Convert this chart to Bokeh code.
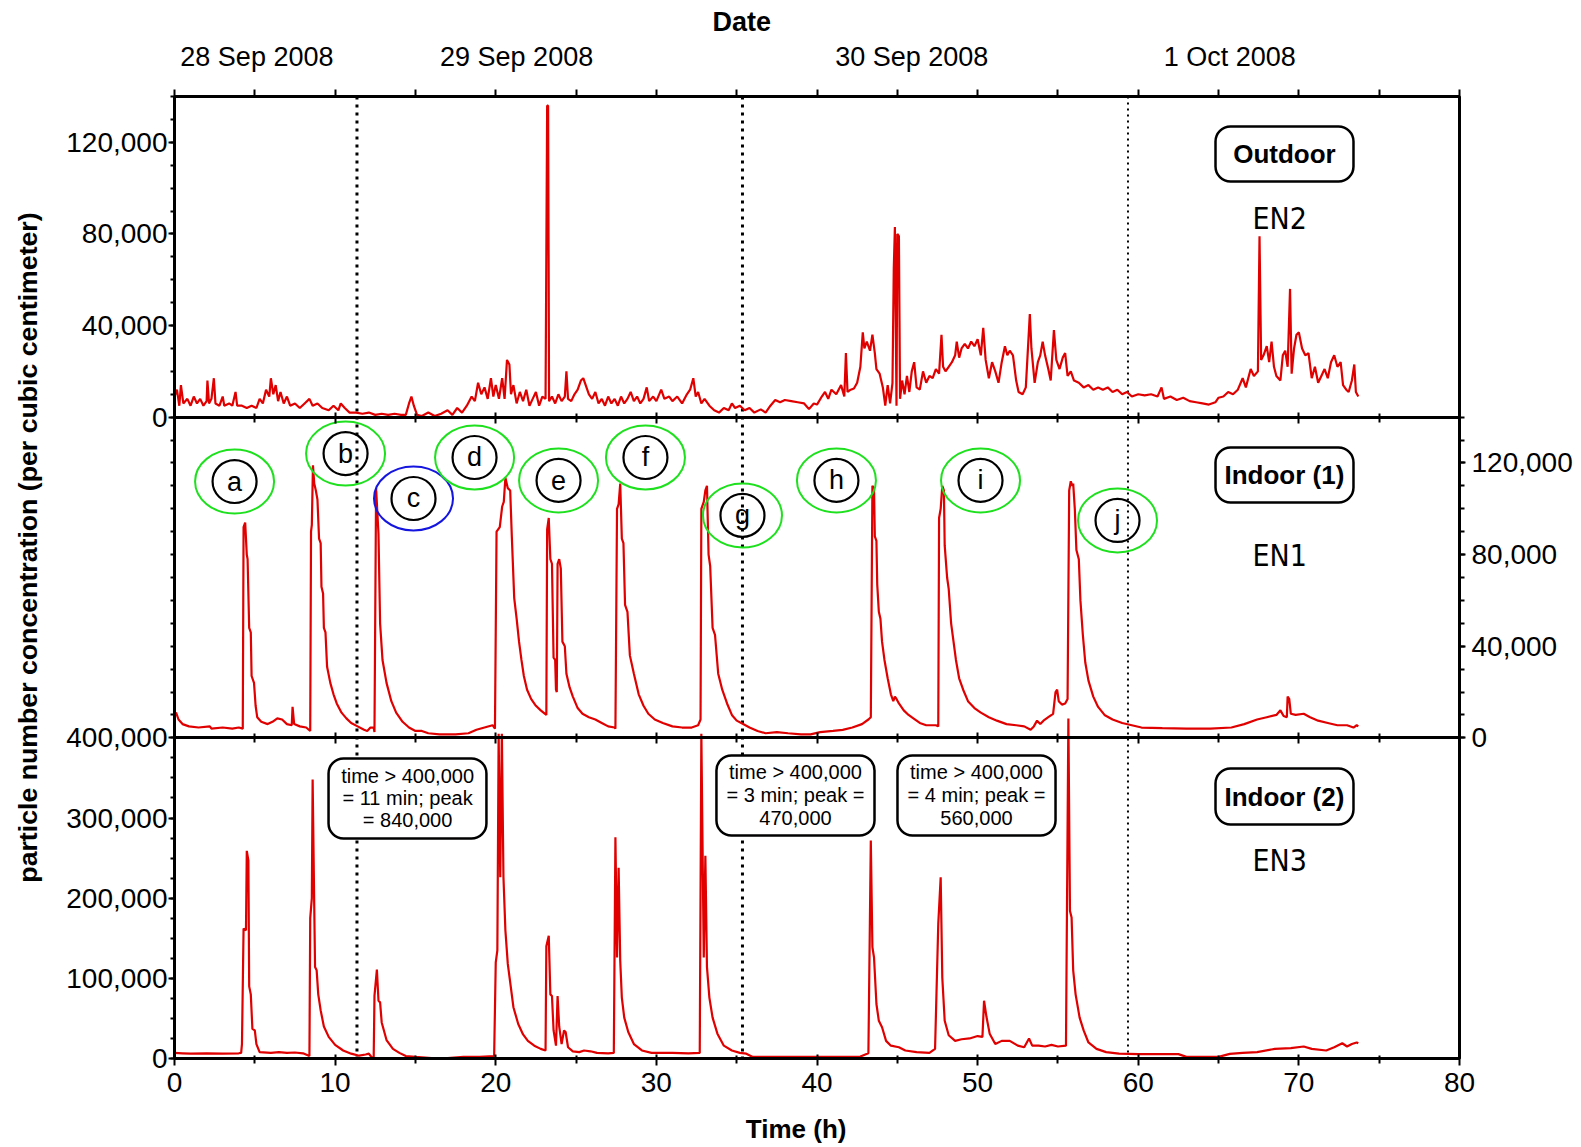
import math
from bokeh.plotting import figure
from bokeh.models import (Range1d, LinearAxis, FixedTicker, NumeralTickFormatter, Span, Label,
                          BoxAnnotation, CustomJSTickFormatter, Title, Grid)
from bokeh.embed import file_html
from bokeh.resources import INLINE
from bokeh.core.properties import value

# ---------------- data (time in hours, concentrations in thousands per cm3) ----------------
out_t = [0.0, 0.15, 0.3, 0.4, 0.55, 0.8, 1.0, 1.2, 1.4, 1.6, 1.8, 2.0, 2.05, 2.15, 2.3, 2.45, 2.55, 2.8,
         3.0, 3.1, 3.4, 3.6, 3.8, 3.9, 4.2, 4.5, 4.8, 5.1, 5.3, 5.5, 5.7, 5.9, 6.0, 6.15, 6.3, 6.45, 6.6,
         6.8, 7.0, 7.2, 7.5, 7.8, 8.1, 8.4, 8.6, 8.9, 9.2, 9.6, 9.9, 10.2, 10.35, 10.6, 10.9, 11.3, 11.7,
         12.1, 12.5, 12.9, 13.3, 13.7, 14.1, 14.4, 14.6, 14.75, 14.9, 15.1, 15.4, 15.8, 16.2, 16.6, 17.0,
         17.3, 17.6, 17.9, 18.2, 18.5, 18.7, 18.9, 19.1, 19.3, 19.5, 19.7, 19.85, 20.0, 20.2, 20.4, 20.55,
         20.7, 20.85, 20.95, 21.1, 21.3, 21.5, 21.7, 21.9, 22.1, 22.3, 22.5, 22.7, 22.9, 23.1, 23.2, 23.26,
         23.32, 23.5, 23.7, 23.9, 24.1, 24.3, 24.4, 24.5, 24.7, 24.9, 25.1, 25.3, 25.45, 25.6, 25.8, 26.0,
         26.2, 26.4, 26.6, 26.8, 27.0, 27.2, 27.4, 27.6, 27.8, 28.0, 28.2, 28.4, 28.6, 28.8, 29.0, 29.2,
         29.4, 29.55, 29.8, 30.0, 30.3, 30.5, 30.8, 31.0, 31.3, 31.6, 31.9, 32.1, 32.3, 32.45, 32.6, 32.8,
         33.0, 33.3, 33.6, 33.9, 34.2, 34.5, 34.7, 34.9, 35.2, 35.5, 35.8, 36.1, 36.5, 36.8, 37.1, 37.4,
         37.7, 38.0, 38.4, 38.8, 39.2, 39.5, 39.8, 40.0, 40.3, 40.5, 40.7, 40.9, 41.2, 41.5, 41.7, 41.8,
         41.9, 42.1, 42.3, 42.5, 42.7, 42.85, 42.95, 43.1, 43.3, 43.45, 43.6, 43.7, 43.9, 44.1, 44.25,
         44.4, 44.55, 44.7, 44.78, 44.85, 44.95, 45.0, 45.1, 45.17, 45.3, 45.45, 45.6, 45.75, 45.9, 46.05,
         46.2, 46.4, 46.6, 46.8, 47.0, 47.2, 47.4, 47.6, 47.75, 47.85, 48.0, 48.2, 48.4, 48.6, 48.7, 48.85,
         49.0, 49.2, 49.4, 49.6, 49.8, 50.0, 50.2, 50.35, 50.5, 50.7, 50.9, 51.1, 51.3, 51.5, 51.7, 51.85,
         52.0, 52.2, 52.4, 52.55, 52.8, 53.0, 53.25, 53.35, 53.55, 53.75, 53.9, 54.05, 54.2, 54.4, 54.55,
         54.75, 54.9, 55.1, 55.3, 55.45, 55.6, 55.8, 56.0, 56.3, 56.6, 56.9, 57.2, 57.5, 57.8, 58.1, 58.4,
         58.7, 59.0, 59.3, 59.6, 60.0, 60.4, 60.8, 61.2, 61.45, 61.6, 62.0, 62.4, 62.8, 63.2, 63.6, 64.0,
         64.4, 64.8, 65.0, 65.3, 65.6, 65.9, 66.2, 66.5, 66.7, 67.0, 67.2, 67.45, 67.55, 67.65, 67.8, 68.0,
         68.15, 68.3, 68.45, 68.6, 68.85, 69.0, 69.15, 69.3, 69.45, 69.55, 69.7, 69.85, 70.0, 70.2, 70.4,
         70.6, 70.8, 71.0, 71.2, 71.4, 71.6, 71.8, 72.0, 72.2, 72.4, 72.6, 72.75, 72.95, 73.1, 73.3, 73.45,
         73.55, 73.7]
out_k = [9, 12, 5, 14, 6, 8, 5, 9, 6, 8, 5, 7, 16, 6, 8, 17, 6, 5,
         9, 5, 6, 5, 11, 5, 5, 4, 5, 4, 8, 6, 12, 9, 17, 10, 14, 7, 11,
         6, 9, 5, 6, 4, 6, 8, 5, 6, 4, 3, 5, 3, 6, 4, 2, 2, 1.5,
         2, 1, 1.5, 1, 1.5, 1, 1, 6, 9, 5, 1, 0.5, 2, 0.5, 1.5, 3,
         1, 4, 2, 5, 9, 7, 15, 10, 13, 8, 17, 9, 14, 8, 17, 8,
         25, 23, 10, 14, 6, 11, 7, 12, 5, 8, 11, 5, 9, 8, 136, 136,
         7, 9, 6, 10, 7, 9, 20, 8, 7, 10, 12, 16, 17, 14, 10, 8,
         11, 6, 8, 5, 9, 6, 8, 5, 9, 6, 8, 11, 7, 9, 6, 8,
         13, 7, 9, 7, 12, 8, 9, 7, 9, 6, 10, 12, 17, 9, 11, 6,
         8, 5, 3, 2, 4, 3, 6, 4, 5, 3, 4, 2, 3.4, 2, 5, 7.5,
         6.5, 7.5, 7, 6.5, 6, 3.5, 6, 5.5, 9, 11, 8, 12, 10, 14, 9, 28,
         11, 12, 12.5, 15, 22, 37, 30, 33, 29, 36, 28, 21, 19, 13, 5,
         14, 6, 15, 65, 83, 5, 80, 79, 8, 16, 10, 18, 11, 20, 24,
         13, 12, 20, 15, 18, 17, 21, 19, 36, 22, 20, 22, 24, 27, 33, 26,
         30, 32, 30, 33, 31, 34, 27, 39, 25, 17, 24, 20, 15, 24, 31, 27,
         29, 27, 16, 11, 10, 13, 45, 30, 15, 24, 27, 33, 27, 21, 16,
         38, 25, 21, 26, 28, 18, 20, 16, 15, 13, 14, 12, 13, 12, 13, 11,
         12, 10, 11, 9, 10, 9.5, 10, 9, 13, 8, 9, 7.5, 8.5, 7, 6.5, 6,
         5.5, 6.5, 8.5, 9, 11, 10, 12, 17, 13, 21, 18, 20, 79, 25, 27, 31,
         24, 33, 22, 18, 16, 27, 29, 22, 56, 19, 30, 36, 37, 30, 27,
         28, 17, 22, 15, 18, 21, 17, 24, 27, 22, 24, 14, 12, 11, 16, 23,
         11, 9]

in1_t = [0.0, 0.1, 0.25, 0.5, 0.9, 1.5, 2.2, 2.3, 3.0, 3.6, 4.0, 4.25, 4.3, 4.4, 4.5, 4.55, 4.65, 4.75,
         4.8, 4.95, 5.05, 5.15, 5.4, 5.8, 6.1, 6.4, 6.7, 7.0, 7.3, 7.35, 7.45, 7.8, 8.2, 8.45, 8.5, 8.55,
         8.62, 8.7, 8.8, 8.9, 9.0, 9.1, 9.15, 9.25, 9.3, 9.4, 9.5, 9.7, 9.9, 10.1, 10.4, 10.7, 11.0, 11.4,
         11.8, 12.0, 12.2, 12.4, 12.45, 12.55, 12.7, 12.8, 12.95, 13.2, 13.5, 13.8, 14.2, 14.6, 15.0, 15.4,
         15.8, 16.5, 17.5, 18.3, 18.8, 19.3, 19.8, 19.95, 20.05, 20.25, 20.4, 20.5, 20.6, 20.75, 20.9, 21.0,
         21.15, 21.3, 21.45, 21.6, 21.75, 21.95, 22.2, 22.5, 22.8, 23.15, 23.2, 23.3, 23.4, 23.5, 23.6, 23.7,
         23.75, 23.8, 23.85, 23.95, 24.05, 24.15, 24.3, 24.4, 24.6, 24.8, 25.1, 25.4, 25.8, 26.2, 26.6, 27.0,
         27.4, 27.45, 27.55, 27.65, 27.75, 27.85, 27.95, 28.05, 28.2, 28.35, 28.6, 28.9, 29.2, 29.5, 29.9,
         30.4, 31.0, 31.6, 32.2, 32.6, 32.75, 32.8, 32.95, 33.05, 33.15, 33.25, 33.35, 33.5, 33.65, 33.85,
         34.1, 34.4, 34.7, 35.0, 35.4, 35.8, 36.3, 36.8, 37.5, 38.2, 39.0, 39.6, 40.2, 41.0, 41.6, 42.2,
         42.8, 43.2, 43.35, 43.45, 43.55, 43.6, 43.7, 43.75, 43.85, 43.95, 44.05, 44.2, 44.4, 44.6, 44.75,
         44.85, 44.95, 45.1, 45.4, 45.7, 46.0, 46.4, 46.8, 47.4, 47.55, 47.6, 47.7, 47.8, 47.9, 47.95, 48.1,
         48.2, 48.35, 48.5, 48.65, 48.85, 49.1, 49.4, 49.8, 50.2, 50.7, 51.2, 51.8, 52.4, 52.9, 53.3, 53.5,
         53.7, 53.9, 54.1, 54.4, 54.7, 54.85, 54.95, 55.05, 55.25, 55.45, 55.6, 55.7, 55.8, 55.9, 55.95,
         56.05, 56.15, 56.3, 56.4, 56.55, 56.7, 56.9, 57.2, 57.5, 57.9, 58.4, 59.0, 59.6, 60.2, 61.5, 63.0,
         64.5, 65.8, 66.6, 67.4, 68.0, 68.6, 68.85, 69.05, 69.25, 69.3, 69.4, 69.5, 69.8, 70.3, 70.7, 71.2,
         71.8, 72.4, 73.0, 73.4, 73.6, 73.7]
in1_k = [10, 11, 8, 6, 5, 4.5, 5, 4, 4.5, 4, 4.5, 4, 92, 94, 80, 78, 48, 46,
         27, 24, 14, 9, 7, 6, 7, 8.5, 8, 6, 5.5, 13.5, 6, 5, 4.5, 3, 90, 93,
         119, 111, 108, 104, 87, 85, 66, 63, 48, 46, 31, 24, 19, 15, 11, 8.5, 6.5, 5,
         3.5, 3, 4.5, 4.5, 2.5, 109, 89, 50, 34, 24, 16, 11, 7, 4.5, 3, 3,
         2, 1.5, 1.5, 2, 3.5, 4.5, 5.5, 4, 90, 92, 101, 103, 113.5, 109, 108, 88,
         61, 52, 42, 34, 27, 21, 17, 14, 12, 10, 91, 96, 78, 76, 35, 34,
         21, 20, 76, 78, 74, 42, 40, 28, 22, 18, 13, 10.5, 9, 8, 6.5, 5,
         4.5, 4, 100, 102, 111, 87, 85, 58, 55, 36, 28, 19, 14, 10.5, 8,
         6.5, 5, 4.5, 4.5, 5.5, 8, 100, 103, 108, 110, 80, 75, 48, 45, 28,
         21, 15, 10, 7.5, 6, 4.5, 3, 2, 2.5, 2, 1.5, 1.5, 2.5, 3, 3.5, 4.5,
         6, 8, 9, 110, 109, 88, 86, 67, 55, 52, 42, 34, 26, 19, 16,
         18, 17, 15, 12, 10, 8.5, 6.5, 5.5, 5.5, 5, 96, 100, 110, 108, 84, 70,
         65, 50, 42, 34, 26, 21, 16, 13, 11, 9, 7.5, 6, 5.5, 5, 3.5, 5,
         7.5, 6, 7.5, 9, 10.5, 20, 21, 16, 14.5, 15, 17, 108, 112, 110, 111,
         100, 82, 78, 60, 45, 33, 25, 18, 13.5, 10, 8, 6.5, 5.5, 4.5, 4.2, 4,
         4, 4.5, 6, 8, 9, 10, 12, 9.5, 9, 18, 17, 10.5, 10, 10.5, 9, 7.5,
         6.5, 5.5, 5.5, 4.5, 5.5, 5]

in2_t = [0.0, 0.5, 1.0, 2.0, 3.0, 4.0, 4.15, 4.2, 4.3, 4.45, 4.5, 4.6, 4.65, 4.75, 4.85, 5.0, 5.1, 5.3,
         6.0, 6.5, 7.0, 7.5, 8.0, 8.4, 8.45, 8.55, 8.6, 8.7, 8.75, 8.85, 8.95, 9.1, 9.3, 9.6, 10.0, 10.5,
         11.0, 11.5, 11.9, 12.1, 12.3, 12.4, 12.45, 12.6, 12.7, 12.8, 12.9, 13.2, 13.6, 14.0, 14.4, 15.0,
         16.0, 17.0, 18.0, 19.0, 19.9, 20.0, 20.1, 20.18, 20.28, 20.38, 20.48, 20.6, 20.75, 20.9, 21.1,
         21.4, 21.7, 22.0, 22.4, 22.8, 23.1, 23.15, 23.3, 23.4, 23.5, 23.6, 23.75, 23.85, 23.95, 24.1,
         24.25, 24.35, 24.5, 24.8, 25.2, 25.5, 25.9, 26.3, 27.0, 27.35, 27.45, 27.55, 27.65, 27.75, 27.85,
         28.0, 28.25, 28.6, 29.1, 29.7, 31.0, 32.0, 32.7, 32.8, 32.95, 33.05, 33.15, 33.3, 33.5, 33.8,
         34.2, 34.7, 35.2, 35.6, 36.0, 37.0, 38.0, 39.0, 40.0, 41.0, 42.0, 42.7, 43.2, 43.35, 43.45, 43.55,
         43.7, 43.85, 44.05, 44.3, 44.6, 45.1, 45.5, 46.2, 47.0, 47.35, 47.55, 47.7, 47.8, 47.95, 48.2,
         48.6, 49.0, 49.5, 50.0, 50.3, 50.4, 50.55, 50.75, 51.1, 51.5, 52.0, 52.5, 52.9, 53.2, 53.4, 53.8,
         54.2, 54.6, 55.0, 55.5, 55.65, 55.75, 55.85, 55.95, 56.1, 56.35, 56.6, 56.9, 57.4, 58.0, 58.8,
         60.0, 61.0, 62.5, 63.0, 65.0, 65.7, 66.5, 67.4, 68.5, 69.5, 70.3, 70.8, 71.7, 72.2, 72.7, 73.0,
         73.3, 73.6, 73.7]
in2_k = [7, 6.5, 6, 6.5, 6, 6.5, 7, 18, 162, 160, 259, 247, 90, 80, 37, 35, 18, 8,
         7, 8, 7, 7.5, 6.5, 3, 175, 200, 348, 190, 114, 110, 80, 60, 40, 27, 17, 10,
         6, 3.5, 5, 6, 1, 0.5, 78, 111, 72, 70, 45, 23, 12, 7, 3, 2,
         0.5, 0.5, 2, 2, 3, 120, 135, 405, 226, 405, 226, 160, 118, 95, 64,
         43, 30, 22, 16, 12, 10, 140, 153, 80, 78, 35, 16, 78, 40, 18,
         35, 33, 14, 9, 8, 10, 9, 7, 6.5, 7, 276, 126, 238, 122, 76,
         51, 33, 18, 10, 7, 7, 6.5, 7, 405, 126, 253, 114, 76, 51, 31,
         16, 10, 7, 6, 2, 2, 2, 2, 2, 2, 2, 2.5, 6.5, 272, 139, 126,
         68, 47, 39, 22, 16, 14, 10, 8, 7, 12, 168, 226, 101, 47, 29,
         22, 24, 25, 28, 27, 72, 52, 31, 18, 22, 22, 16, 14, 25, 16, 16,
         15, 17, 15, 16, 424, 184, 176, 110, 80, 51, 35, 20, 12, 8, 6,
         5.5, 5.5, 5.5, 2, 2, 5.8, 7, 8, 12, 13, 15, 12, 10, 14, 19, 15,
         18, 20, 19]

x_major = [0, 10, 20, 30, 40, 50, 60, 70, 80]
x_minor = [5, 15, 25, 35, 45, 55, 65, 75]
x_every5 = [0, 5, 10, 15, 20, 25, 30, 35, 40, 45, 50, 55, 60, 65, 70, 75, 80]
date_pos = [5.13, 21.3, 45.9, 65.7]
date_labels = ["28 Sep 2008", "29 Sep 2008", "30 Sep 2008", "1 Oct 2008"]
midnights = [11.36, 35.36, 59.36]
small_major = [0, 40000, 80000, 120000]
small_minor = [0, 10000, 20000, 30000, 40000, 50000, 60000, 70000, 80000, 90000, 100000,
               110000, 120000, 130000, 140000]
big_major = [0, 100000, 200000, 300000, 400000]
big_minor = [0, 25000, 50000, 75000, 100000, 125000, 150000, 175000, 200000, 225000, 250000,
             275000, 300000, 325000, 350000, 375000, 400000]

circ_letters = ["a", "b", "c", "d", "e", "f", "g", "h", "i", "j"]
circ_x = [3.74, 10.65, 14.88, 18.68, 23.91, 29.32, 35.36, 41.21, 50.18, 58.71]
circ_y = [111900, 124100, 104500, 122400, 112400, 122400, 97100, 112400, 112400, 94900]
circ_col = ["#1ee01e", "#1ee01e", "#1515e0", "#1ee01e", "#1ee01e", "#1ee01e", "#1ee01e",
            "#1ee01e", "#1ee01e", "#1ee01e"]

x_title = "Time (h)"
x_title_pos = 38.7          # hours
y_title = "particle number concentration (per cubic centimeter)"
y_title_pos = 637400        # position on the stacked (0..1,200,000) axis
date_title = "Date"

RED = "#e00000"
TICK_FONT = "Liberation Sans"
NARROW = "'Liberation Sans Narrow', 'Arial Narrow', 'DejaVu Sans Condensed', sans-serif"

# Panel geometry: the bottom panel uses the default y range directly (0..400,000 of 0..1,200,000);
# the middle and top panels use extra ranges holding 0..140,000 in the middle and upper thirds.
PANEL = 400000
SCALE = 400000 / 140000

p = figure(width=1581, height=1147, output_backend="svg", toolbar_location=None,
           x_range=Range1d(0, 80), y_range=Range1d(0, 3 * PANEL),
           x_axis_location=None, y_axis_location=None,
           min_border_left=174, min_border_right=122, min_border_top=96, min_border_bottom=89)
p.extra_y_ranges = {"top": Range1d(-2 * 140000, 140000), "mid": Range1d(-140000, 2 * 140000)}
for g in p.select(type=Grid):
    g.visible = False
p.outline_line_color = "black"
p.outline_line_width = 3
p.background_fill_color = "white"
p.border_fill_color = "white"

blank = CustomJSTickFormatter(code="return ''")
comma = NumeralTickFormatter(format="0,0")


def style(ax, size="28px"):
    ax.axis_line_color = "black"
    ax.axis_line_width = 3
    ax.major_tick_line_color = "black"
    ax.major_tick_line_width = 2
    ax.minor_tick_line_color = "black"
    ax.minor_tick_line_width = 2
    ax.major_label_text_font = TICK_FONT
    ax.major_label_text_font_size = size
    ax.major_label_text_color = "black"
    return ax


def title_axis(ax, size, standoff):
    # an axis that carries only a single bold label (used as a positioned axis title)
    ax.axis_line_color = None
    ax.major_tick_line_color = None
    ax.minor_tick_line_color = None
    ax.major_tick_in = ax.major_tick_out = 0
    ax.minor_tick_in = ax.minor_tick_out = 0
    ax.major_label_standoff = standoff
    ax.major_label_text_font = TICK_FONT
    ax.major_label_text_font_size = size
    ax.major_label_text_font_style = "bold"
    ax.major_label_text_color = "black"
    return ax


# bottom x axis
xb = style(LinearAxis(ticker=FixedTicker(ticks=x_major, minor_ticks=x_minor)))
xb.major_tick_in, xb.major_tick_out = 4, 7
xb.minor_tick_in, xb.minor_tick_out = 3, 5
xb.major_label_standoff = 7
p.add_layout(xb, "below")
xlab = title_axis(LinearAxis(ticker=FixedTicker(ticks=[x_title_pos], minor_ticks=[]),
                             formatter=CustomJSTickFormatter(code="return '%s'" % x_title)),
                  "26px", 19)
p.add_layout(xlab, "below")

# top date axis
xt = style(LinearAxis(ticker=FixedTicker(ticks=date_pos, minor_ticks=x_every5),
                      major_label_overrides={pos: lab for pos, lab in zip(date_pos, date_labels)}),
           size="27px")
xt.major_tick_in, xt.major_tick_out = 0, 0
xt.minor_tick_in, xt.minor_tick_out = 0, 7
xt.major_label_standoff = 18
p.add_layout(xt, "above")
p.add_layout(Title(text=date_title, align="left", offset=538, standoff=3, text_font=TICK_FONT,
                   text_font_size="27px", text_font_style="bold", text_color="black"), "above")

# panel boundary axes (ticks only)
for loc in (PANEL, 2 * PANEL):
    xm = style(LinearAxis(ticker=FixedTicker(ticks=x_major, minor_ticks=x_minor),
                          formatter=blank, fixed_location=loc))
    xm.major_tick_in, xm.major_tick_out = 5, 6
    xm.minor_tick_in, xm.minor_tick_out = 4, 5
    p.add_layout(xm, "below")


# left axis: bottom panel values directly, middle/top panel values placed in their thirds
def mid_pos(v):
    return PANEL + v * SCALE


def top_pos(v):
    return 2 * PANEL + v * SCALE


left_major = big_major + [top_pos(v) for v in small_major]
left_minor = big_minor + [mid_pos(v) for v in small_minor] + [top_pos(v) for v in small_minor]
left_fmt = CustomJSTickFormatter(code="""
    if (tick > 400001 && tick < 799999) { return ''; }
    const v = tick >= 799999 ? Math.round((tick - 800000) * 0.35) : Math.round(tick);
    return v.toLocaleString('en-US');
""")
yl = style(LinearAxis(ticker=FixedTicker(ticks=left_major, minor_ticks=left_minor), formatter=left_fmt))
yl.major_tick_in, yl.major_tick_out = 0, 6
yl.minor_tick_in, yl.minor_tick_out = 0, 4
yl.major_label_standoff = 1
p.add_layout(yl, "left")
ylab = title_axis(LinearAxis(ticker=FixedTicker(ticks=[y_title_pos], minor_ticks=[]),
                             formatter=CustomJSTickFormatter(code="return '%s'" % y_title)),
                  "26.7px", 20)
ylab.major_label_orientation = "vertical"
p.add_layout(ylab, "left")

# right axes
yr_top = style(LinearAxis(y_range_name="top", ticker=FixedTicker(ticks=small_minor),
                          formatter=blank, bounds=(0, 140000), fixed_location=80))
yr_top.major_tick_in, yr_top.major_tick_out = 0, 6
p.add_layout(yr_top, "right")

yr_mid = style(LinearAxis(y_range_name="mid", ticker=FixedTicker(ticks=small_major, minor_ticks=small_minor),
                          formatter=comma, bounds=(0, 140000)))
yr_mid.major_tick_in, yr_mid.major_tick_out = 0, 6
yr_mid.minor_tick_in, yr_mid.minor_tick_out = 0, 5
yr_mid.major_label_standoff = 6
p.add_layout(yr_mid, "right")

yr_bot = style(LinearAxis(ticker=FixedTicker(ticks=big_minor),
                          formatter=blank, bounds=(0, 400000), fixed_location=80))
yr_bot.major_tick_in, yr_bot.major_tick_out = 0, 6
p.add_layout(yr_bot, "right")

# midnight dotted lines
for i, m in enumerate(midnights):
    p.add_layout(Span(location=m, dimension="height", line_color="black",
                      line_width=3 if i < 2 else 2, line_dash="3 5" if i < 2 else "2 4",
                      level="underlay"))

# data
p.line(out_t, [v * 1000 for v in out_k], y_range_name="top", line_color=RED, line_width=2.2)
p.line(in1_t, [v * 1000 for v in in1_k], y_range_name="mid", line_color=RED, line_width=2.2)
p.line(in2_t, [v * 1000 for v in in2_k], line_color=RED, line_width=2.2)

# circled letters
p.ellipse(x=circ_x, y=circ_y, width=79, height=64, width_units="screen", height_units="screen",
          fill_color=None, line_color=circ_col, line_width=2, y_range_name="mid")
p.ellipse(x=circ_x, y=circ_y, width=44, height=43, width_units="screen", height_units="screen",
          fill_color=None, line_color="black", line_width=2.2, y_range_name="mid")
p.text(x=circ_x, y=circ_y, text=circ_letters, text_align="center", text_baseline="middle",
       text_font=value(TICK_FONT), text_font_size="27px", text_color="black", y_range_name="mid")


def box(left, right, bottom, top, rng):
    p.add_layout(BoxAnnotation(left=left, right=right, bottom=bottom, top=top, y_range_name=rng,
                               fill_color="white", fill_alpha=1.0, line_color="black", line_alpha=1.0,
                               line_width=2.5, border_radius=15))


def lab(x, y, text, rng="default", size="26px", bold=False, font=TICK_FONT):
    p.add_layout(Label(x=x, y=y, text=text, y_range_name=rng, text_align="center",
                       text_baseline="middle", text_font=font, text_font_size=size,
                       text_font_style="bold" if bold else "normal", text_color="black"))


# panel name boxes
box(64.81, 73.40, 102900, 126900, "top")
lab(69.1, 114900, "Outdoor", "top", bold=True)
lab(68.8, 86700, "EN2", "top", size="30px", font=NARROW)
box(64.81, 73.40, 102700, 126800, "mid")
lab(69.1, 114800, "Indoor (1)", "mid", bold=True)
lab(68.8, 79600, "EN1", "mid", size="30px", font=NARROW)
box(64.81, 73.40, 291900, 361700, "default")
lab(69.1, 326800, "Indoor (2)", bold=True)
lab(68.8, 247000, "EN3", size="30px", font=NARROW)

# note boxes
notes = [
    (9.59, 19.42, 274400, 374200, 14.51, [353000, 325000, 298100],
     ["time > 400,000", "= 11 min; peak", "= 840,000"]),
    (33.74, 43.58, 278200, 378000, 38.66, [356800, 328700, 300600],
     ["time > 400,000", "= 3 min; peak =", "470,000"]),
    (45.01, 54.85, 278200, 378000, 49.93, [356800, 328700, 300600],
     ["time > 400,000", "= 4 min; peak =", "560,000"]),
]
for l, r, b, t, cx, ys, lines in notes:
    box(l, r, b, t, "default")
    for yy, tx in zip(ys, lines):
        lab(cx, yy, tx, size="20px")

open("out.html", "w").write(file_html(p, INLINE))
